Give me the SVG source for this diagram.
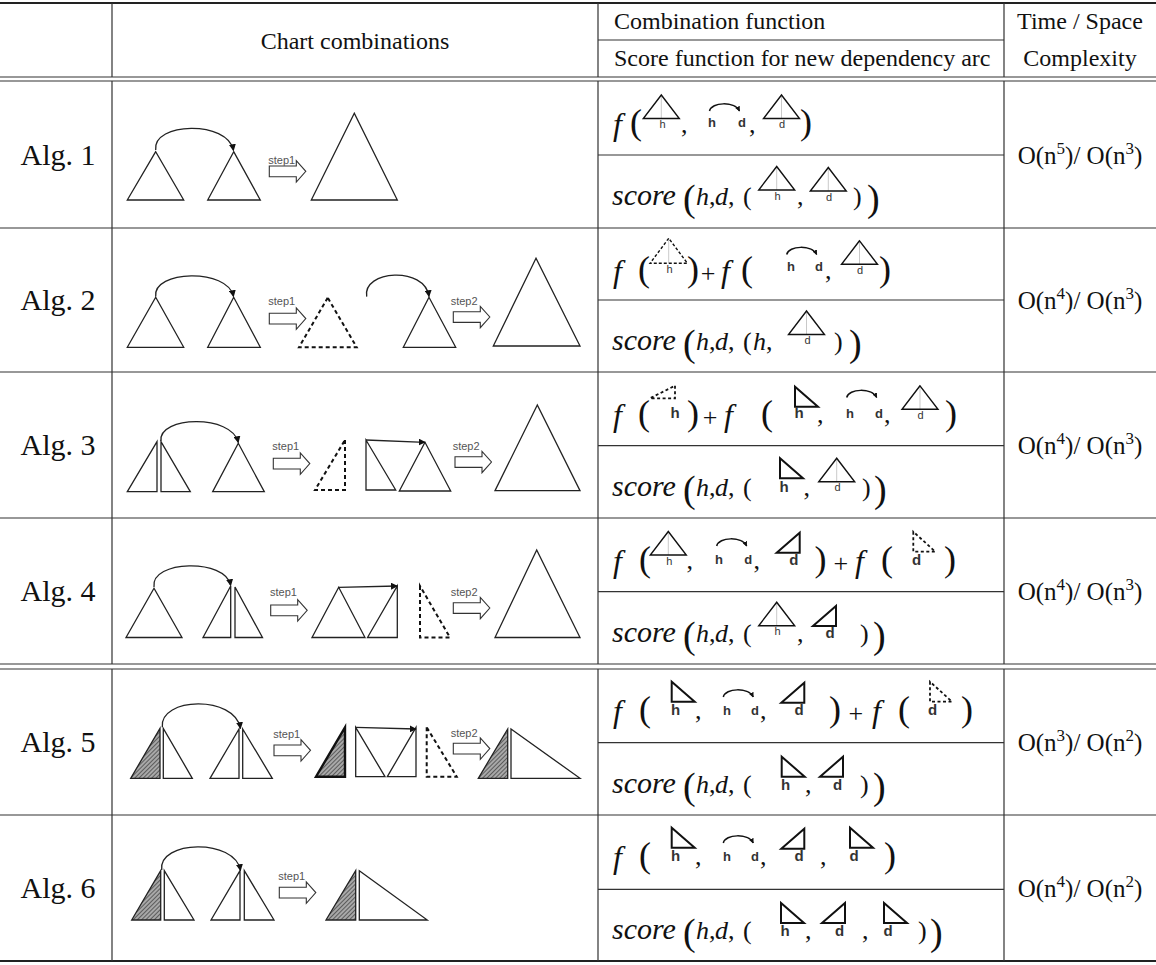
<svg xmlns="http://www.w3.org/2000/svg" width="1156" height="965" viewBox="0 0 1156 965">
<style>
.ln{stroke:#333;stroke-width:1.2;fill:none}
.lt{stroke:#222;stroke-width:1.8;fill:none}
.tr{fill:#fff;stroke:#222;stroke-width:1.3}
.hx{fill:url(#hatch);stroke:#222;stroke-width:1.3}
.hxb{fill:url(#hatch);stroke:#111;stroke-width:2.4}
.ds{fill:none;stroke:#111;stroke-width:2;stroke-dasharray:4 3}
.cn{fill:none;stroke:#222;stroke-width:1.3}
.t{font-family:"Liberation Serif","Times New Roman",serif;fill:#111}
.hd{font-size:24px}
.alg{font-size:30px;text-anchor:middle}
.cx{font-size:25px;text-anchor:middle}
.mi{font-family:"Liberation Serif","Times New Roman",serif;font-style:italic;fill:#111;font-size:26px}
.sc{font-family:"Liberation Serif","Times New Roman",serif;font-style:italic;fill:#111;font-size:30px}
.mf{font-family:"Liberation Serif","Times New Roman",serif;font-style:italic;fill:#111;font-size:32px}
.mr{font-family:"Liberation Serif","Times New Roman",serif;fill:#111;font-size:26px}
.pb{font-family:"Liberation Serif","Times New Roman",serif;fill:#111;font-size:36px}
.st{font-family:"Liberation Sans",Arial,sans-serif;font-size:11px;fill:#555}
.lb{font-family:"Liberation Sans",Arial,sans-serif;fill:#333;text-anchor:middle}
.ls{font-size:11px}
.la{font-size:13px;font-weight:bold}
.lr{font-size:15px;font-weight:bold}
.it{font-style:italic}
.big{font-size:38px}
</style>
<defs>
<marker id="ah" viewBox="0 0 10 10" refX="9" refY="5" markerWidth="7" markerHeight="7" markerUnits="userSpaceOnUse" orient="auto"><path d="M0,0 L10,5 L0,10 z" fill="#111"/></marker>
<marker id="ahs" viewBox="0 0 10 10" refX="9" refY="5" markerWidth="5" markerHeight="5" markerUnits="userSpaceOnUse" orient="auto"><path d="M0,0 L10,5 L0,10 z" fill="#111"/></marker>
<pattern id="hatch" width="3" height="3" patternUnits="userSpaceOnUse" patternTransform="rotate(45)"><rect width="3" height="3" fill="#a8a8a8"/><line x1="0" y1="0" x2="0" y2="3" stroke="#333" stroke-width="1.3"/></pattern>
<path id="blk" d="M0,0 H27 V-5.3 L36.5,5.3 L27,16 V10.7 H0 Z" fill="#fff" stroke="#333" stroke-width="1.1"/>
<g id="triI"><line x1="0" y1="-23.5" x2="0" y2="0" stroke="#bbb" stroke-width="0.8"/><polygon points="0,-23.5 -18,0 18,0" fill="none" stroke="#111" stroke-width="1.4"/></g>
<g id="triId"><line x1="0" y1="-25" x2="0" y2="0" stroke="#bbb" stroke-width="0.8"/><polygon points="0,-25 -18.7,0 18.7,0" fill="none" stroke="#111" stroke-width="1.4" stroke-dasharray="3 2"/></g>
<path id="arcI" d="M0,0 C2,-9 25,-10 30,0" fill="none" stroke="#111" stroke-width="1.5" marker-end="url(#ahs)"/>
<polygon id="rtH" points="0,-20 0,0 23,0" fill="none" stroke="#111" stroke-width="2"/>
<polygon id="rtD" points="23,-20 23,0 0,0" fill="none" stroke="#111" stroke-width="2"/>
<polygon id="rtDd" points="0,-20 0,0 22,0" fill="none" stroke="#111" stroke-width="1.8" stroke-dasharray="3 2.5"/>
<polygon id="rtHd" points="25,-12.6 25,0 0,0" fill="none" stroke="#111" stroke-width="1.8" stroke-dasharray="3 2.5"/>
</defs>
<rect width="1156" height="965" fill="#fff"/>

<g id="table-lines">
<line class="lt" x1="0" y1="3" x2="1156" y2="3"/>
<line class="ln" x1="598" y1="40" x2="1004" y2="40"/>
<line class="ln" x1="0" y1="77" x2="1156" y2="77"/>
<line class="ln" x1="0" y1="81" x2="1156" y2="81"/>
<line class="ln" x1="0" y1="228" x2="1156" y2="228"/>
<line class="ln" x1="0" y1="372" x2="1156" y2="372"/>
<line class="ln" x1="0" y1="518" x2="1156" y2="518"/>
<line class="ln" x1="0" y1="664" x2="1156" y2="664"/>
<line class="ln" x1="0" y1="669" x2="1156" y2="669"/>
<line class="ln" x1="0" y1="815" x2="1156" y2="815"/>
<line class="lt" x1="0" y1="961" x2="1156" y2="961"/>
<line class="ln" x1="598" y1="155" x2="1004" y2="155"/>
<line class="ln" x1="598" y1="300" x2="1004" y2="300"/>
<line class="ln" x1="598" y1="445.7" x2="1004" y2="445.7"/>
<line class="ln" x1="598" y1="591.7" x2="1004" y2="591.7"/>
<line class="ln" x1="598" y1="742.7" x2="1004" y2="742.7"/>
<line class="ln" x1="598" y1="889.3" x2="1004" y2="889.3"/>
<path class="ln" d="M112,3 V77 M112,81 V664 M112,669 V961 M598,3 V77 M598,81 V664 M598,669 V961 M1004,3 V77 M1004,81 V664 M1004,669 V961"/>
</g>

<g id="header">
<text class="t hd" x="355" y="49" text-anchor="middle">Chart combinations</text>
<text class="t hd" x="614" y="29">Combination function</text>
<text class="t hd" x="614" y="66">Score function for new dependency arc</text>
<text class="t hd" x="1080" y="29" text-anchor="middle">Time / Space</text>
<text class="t hd" x="1080" y="66" text-anchor="middle">Complexity</text>
</g>

<g id="labels">
<text class="t alg" x="58" y="165">Alg. 1</text>
<text class="t alg" x="58" y="310">Alg. 2</text>
<text class="t alg" x="58" y="455">Alg. 3</text>
<text class="t alg" x="58" y="601">Alg. 4</text>
<text class="t alg" x="58" y="752">Alg. 5</text>
<text class="t alg" x="58" y="898">Alg. 6</text>
</g>

<g id="complexity">
<text class="t cx" x="1080" y="164">O(n<tspan dy="-10" font-size="17">5</tspan><tspan dy="10">)/ O(n</tspan><tspan dy="-10" font-size="17">3</tspan><tspan dy="10">)</tspan></text>
<text class="t cx" x="1080" y="309">O(n<tspan dy="-10" font-size="17">4</tspan><tspan dy="10">)/ O(n</tspan><tspan dy="-10" font-size="17">3</tspan><tspan dy="10">)</tspan></text>
<text class="t cx" x="1080" y="454">O(n<tspan dy="-10" font-size="17">4</tspan><tspan dy="10">)/ O(n</tspan><tspan dy="-10" font-size="17">3</tspan><tspan dy="10">)</tspan></text>
<text class="t cx" x="1080" y="600">O(n<tspan dy="-10" font-size="17">4</tspan><tspan dy="10">)/ O(n</tspan><tspan dy="-10" font-size="17">3</tspan><tspan dy="10">)</tspan></text>
<text class="t cx" x="1080" y="751">O(n<tspan dy="-10" font-size="17">3</tspan><tspan dy="10">)/ O(n</tspan><tspan dy="-10" font-size="17">2</tspan><tspan dy="10">)</tspan></text>
<text class="t cx" x="1080" y="897">O(n<tspan dy="-10" font-size="17">4</tspan><tspan dy="10">)/ O(n</tspan><tspan dy="-10" font-size="17">2</tspan><tspan dy="10">)</tspan></text>
</g>

<!-- ============ CHART COLUMN ============ -->
<g id="alg1-chart">
<polygon class="tr" points="155.7,151.7 127.3,200 183.7,200"/>
<polygon class="tr" points="233.7,151.7 207.7,200 260.3,200"/>
<use href="#blk" x="269.3" y="166"/>
<text class="st" x="268.3" y="163.5">step1</text>
<polygon class="tr" points="354.3,113.3 311.3,200 397.3,200"/>
</g>
<g id="alg2-chart">
<polygon class="tr" points="155.7,297.3 127.3,347.3 183.7,347.3"/>
<polygon class="tr" points="233.7,297.3 207.7,347.3 260.3,347.3"/>
<use href="#blk" x="269.3" y="313.3"/>
<text class="st" x="268.3" y="305">step1</text>
<polygon class="ds" points="327.7,297.7 299,347.3 356.7,347.3"/>
<polygon class="tr" points="429,297.3 403.3,347.3 455.7,347.3"/>
<use href="#blk" x="453.3" y="311.7"/>
<text class="st" x="450.7" y="305">step2</text>
<polygon class="tr" points="536,258.3 493.3,346 580,346"/>
</g>
<g id="alg3-chart">
<polygon class="tr" points="157,441.7 127.3,491.7 157,491.7"/>
<polygon class="tr" points="161,441.7 161,491.7 190.3,491.7"/>
<polygon class="tr" points="238.3,443.3 212.7,491.7 264.3,491.7"/>
<use href="#blk" x="273.3" y="458.3"/>
<text class="st" x="272.3" y="450">step1</text>
<polygon class="ds" points="345,440 345,490 315,490"/>
<polygon class="tr" points="366,440 366,490 395.7,490"/>
<polygon class="tr" points="425,442.3 399.3,491 450.7,491"/>
<use href="#blk" x="455" y="456.7"/>
<text class="st" x="452.7" y="450">step2</text>
<polygon class="tr" points="537.3,405 495,490.7 580,490.7"/>
</g>
<g id="alg4-chart">
<polygon class="tr" points="154,588.3 126,637.5 182,637.5"/>
<polygon class="tr" points="230.7,586 203,637.5 230.7,637.5"/>
<polygon class="tr" points="235,587 235,637.5 262.5,637.5"/>
<use href="#blk" x="270.7" y="605"/>
<text class="st" x="270" y="596">step1</text>
<polygon class="tr" points="338.7,587.3 312,637.5 365,637.5"/>
<polygon class="tr" points="397.3,586 397.3,637.5 367.5,637.5"/>
<polygon class="ds" points="420,586 420,637.5 450,637.5"/>
<use href="#blk" x="453.3" y="602.7"/>
<text class="st" x="450.7" y="596">step2</text>
<polygon class="tr" points="536.7,550 495,637.5 580,637.5"/>
</g>
<g id="alg5-chart">
<polygon class="hx" points="160,728.3 130.7,778.3 160,778.3"/>
<polygon class="tr" points="163.3,728.3 163.3,778.3 192.3,778.3"/>
<polygon class="tr" points="239,729 210,778.3 239,778.3"/>
<polygon class="tr" points="242.7,729 242.7,778.3 272.3,778.3"/>
<use href="#blk" x="274" y="745"/>
<text class="st" x="273.3" y="737.5">step1</text>
<polygon class="hxb" points="345,727.3 316,776.7 345,776.7"/>
<polygon class="tr" points="355.7,727.3 355.7,776.7 385,776.7"/>
<polygon class="tr" points="416,727.3 387.3,776.7 416,776.7"/>
<polygon class="ds" points="426.7,727.3 426.7,776.7 456.7,776.7"/>
<use href="#blk" x="453.3" y="743.3"/>
<text class="st" x="450.7" y="737">step2</text>
<polygon class="hx" points="507.7,729 478.3,778.3 507.7,778.3"/>
<polygon class="tr" points="511,729 511,778.3 580,778.3"/>
</g>
<g id="alg6-chart">
<polygon class="hx" points="160.7,870.7 131.7,920 160.7,920"/>
<polygon class="tr" points="164.3,870.7 164.3,920 194,920"/>
<polygon class="tr" points="240,870.7 211,920 240,920"/>
<polygon class="tr" points="244.3,870.7 244.3,920 274,920"/>
<use href="#blk" x="279.3" y="887.3"/>
<text class="st" x="278.3" y="879.5">step1</text>
<polygon class="hx" points="355.7,870.7 326,920 355.7,920"/>
<polygon class="tr" points="359.3,870.7 359.3,920 427.3,920"/>
</g>

<g id="connectors">
<path class="cn" d="M155.7,150 C152,122 228,120 233.5,150.5" marker-end="url(#ah)"/>
<path class="cn" d="M155.7,296.7 C152,270 228,268 233.5,296.5" marker-end="url(#ah)"/>
<path class="cn" d="M366.7,296.7 C362,270 425,266 429,296.5" marker-end="url(#ah)"/>
<path class="cn" d="M161,441 C158,416 232,414 238.3,442.5" marker-end="url(#ah)"/>
<path class="cn" d="M366,440 L425,442.3" marker-end="url(#ah)"/>
<path class="cn" d="M154,587 C150,560 226,558 230.7,585.5" marker-end="url(#ah)"/>
<path class="cn" d="M338.7,587.3 L397.3,586" marker-end="url(#ah)"/>
<path class="cn" d="M162.3,727.3 C159,697 235,695 240.5,728.5" marker-end="url(#ah)"/>
<path class="cn" d="M355.7,727.3 L416,729" marker-end="url(#ah)"/>
<path class="cn" d="M161.7,870 C158,840 235,838 240.5,870.5" marker-end="url(#ah)"/>
</g>

<!-- ============ FORMULA COLUMN ============ -->
<g id="alg1-formula">
<text class="mf" x="613" y="135">f</text>
<text class="pb" x="630" y="134">(</text>
<use href="#triI" x="661.3" y="118.5"/><text class="lb ls" x="662.5" y="128">h</text>
<text class="mr" x="681" y="133">,</text>
<use href="#arcI" x="709.5" y="111"/><text class="lb la" x="712" y="126.5">h</text><text class="lb la" x="742" y="126.5">d</text>
<text class="mr" x="749" y="133">,</text>
<use href="#triI" x="781.5" y="118.5"/><text class="lb ls" x="782" y="128">d</text>
<text class="pb" x="800" y="134">)</text>
<text class="sc" x="612" y="205">score</text>
<text class="mr"><tspan class="big" x="683" y="211">(</tspan><tspan class="it" x="696" y="205">h</tspan><tspan x="709">,</tspan><tspan class="it" x="715">d</tspan><tspan x="728">,</tspan><tspan x="743">(</tspan></text>
<use href="#triI" x="776.7" y="190"/><text class="lb ls" x="777.5" y="199.5">h</text>
<text class="mr" x="797" y="205">,</text>
<use href="#triI" x="828.3" y="191"/><text class="lb ls" x="829" y="200.5">d</text>
<text class="mr"><tspan x="853" y="205">)</tspan><tspan class="big" x="867" y="211">)</tspan></text>
</g>

<g id="alg2-formula">
<text class="mf" x="613" y="282">f</text>
<text class="pb" x="638" y="281">(</text>
<use href="#triId" x="668.7" y="263.3"/><text class="lb ls" x="669.5" y="272.5">h</text>
<text class="pb" x="687" y="281">)</text>
<text class="mr" x="708" y="282" text-anchor="middle">+</text>
<text class="mf" x="721" y="282">f</text>
<text class="pb" x="741" y="281">(</text>
<use href="#arcI" x="786.7" y="254.5"/><text class="lb la" x="791" y="271">h</text><text class="lb la" x="819" y="271">d</text>
<text class="mr" x="825" y="279">,</text>
<use href="#triI" x="859.5" y="264.3"/><text class="lb ls" x="860" y="273.5">d</text>
<text class="pb" x="879" y="281">)</text>
<text class="sc" x="612" y="350">score</text>
<text class="mr"><tspan class="big" x="683" y="356">(</tspan><tspan class="it" x="696" y="350">h</tspan><tspan x="709">,</tspan><tspan class="it" x="715">d</tspan><tspan x="728">,</tspan><tspan x="743">(</tspan><tspan class="it" x="753">h</tspan><tspan x="766">,</tspan></text>
<use href="#triI" x="806.5" y="334.5"/><text class="lb ls" x="807.5" y="343.5">d</text>
<text class="mr"><tspan x="834" y="350">)</tspan><tspan class="big" x="849" y="356">)</tspan></text>
</g>

<g id="alg3-formula">
<text class="mf" x="613" y="426">f</text>
<text class="pb" x="638" y="425">(</text>
<use href="#rtHd" x="650" y="398.3"/><text class="lb lr" x="675" y="418">h</text>
<text class="pb" x="687" y="425">)</text>
<text class="mr" x="710" y="426" text-anchor="middle">+</text>
<text class="mf" x="724" y="426">f</text>
<text class="pb" x="761" y="425">(</text>
<use href="#rtH" x="795" y="406.7"/><text class="lb lr" x="799" y="418.3">h</text>
<text class="mr" x="817" y="423">,</text>
<use href="#arcI" x="846.7" y="397.5"/><text class="lb la" x="850" y="418">h</text><text class="lb la" x="879" y="418">d</text>
<text class="mr" x="884" y="423">,</text>
<use href="#triI" x="920" y="409.3"/><text class="lb ls" x="920.5" y="418.5">d</text>
<text class="pb" x="945" y="425">)</text>
<text class="sc" x="612" y="495.7">score</text>
<text class="mr"><tspan class="big" x="683" y="501.7">(</tspan><tspan class="it" x="696" y="495.7">h</tspan><tspan x="709">,</tspan><tspan class="it" x="715">d</tspan><tspan x="728">,</tspan><tspan x="743">(</tspan></text>
<use href="#rtH" x="780" y="478.3"/><text class="lb lr" x="784" y="491.7">h</text>
<text class="mr" x="803.5" y="495.7">,</text>
<use href="#triI" x="836.7" y="481.7"/><text class="lb ls" x="837.5" y="491">d</text>
<text class="mr"><tspan x="862" y="495.7">)</tspan><tspan class="big" x="874" y="501.7">)</tspan></text>
</g>

<g id="alg4-formula">
<text class="mf" x="613" y="571.7">f</text>
<text class="pb" x="639" y="570.7">(</text>
<use href="#triI" x="668.3" y="555"/><text class="lb ls" x="669.3" y="564.5">h</text>
<text class="mr" x="686.5" y="569">,</text>
<use href="#arcI" x="716.7" y="546"/><text class="lb la" x="719" y="564">h</text><text class="lb la" x="748.3" y="564">d</text>
<text class="mr" x="753.5" y="569">,</text>
<use href="#rtD" x="776.7" y="552.7"/><text class="lb lr" x="793.8" y="564.5">d</text>
<text class="pb" x="814.5" y="570.7">)</text>
<text class="mr" x="840.8" y="571.7" text-anchor="middle">+</text>
<text class="mf" x="855" y="571.7">f</text>
<text class="pb" x="881" y="570.7">(</text>
<use href="#rtDd" x="913.3" y="551.7"/><text class="lb lr" x="916.7" y="564.5">d</text>
<text class="pb" x="944" y="570.7">)</text>
<text class="sc" x="612" y="641.7">score</text>
<text class="mr"><tspan class="big" x="683" y="647.7">(</tspan><tspan class="it" x="696" y="641.7">h</tspan><tspan x="709">,</tspan><tspan class="it" x="715">d</tspan><tspan x="728">,</tspan><tspan x="743">(</tspan></text>
<use href="#triI" x="776.7" y="625.7"/><text class="lb ls" x="777.5" y="635">h</text>
<text class="mr" x="797" y="641.7">,</text>
<use href="#rtD" x="813" y="626"/><text class="lb lr" x="830" y="638">d</text>
<text class="mr"><tspan x="860" y="641.7">)</tspan><tspan class="big" x="873" y="647.7">)</tspan></text>
</g>

<g id="alg5-formula">
<text class="mf" x="613" y="722">f</text>
<text class="pb" x="639" y="721">(</text>
<use href="#rtH" x="671.7" y="701.7"/><text class="lb lr" x="675.5" y="715">h</text>
<text class="mr" x="695" y="719">,</text>
<use href="#arcI" x="723.3" y="697"/><text class="lb la" x="727" y="715">h</text><text class="lb la" x="755" y="715">d</text>
<text class="mr" x="760" y="719">,</text>
<use href="#rtD" x="781.3" y="702.7"/><text class="lb lr" x="799" y="715">d</text>
<text class="pb" x="829" y="721">)</text>
<text class="mr" x="855.8" y="722" text-anchor="middle">+</text>
<text class="mf" x="872" y="722">f</text>
<text class="pb" x="898" y="721">(</text>
<use href="#rtDd" x="930" y="701.7"/><text class="lb lr" x="932.5" y="715">d</text>
<text class="pb" x="961" y="721">)</text>
<text class="sc" x="612" y="792.7">score</text>
<text class="mr"><tspan class="big" x="683" y="798.7">(</tspan><tspan class="it" x="696" y="792.7">h</tspan><tspan x="709">,</tspan><tspan class="it" x="715">d</tspan><tspan x="728">,</tspan><tspan x="743">(</tspan></text>
<use href="#rtH" x="781.7" y="776.7"/><text class="lb lr" x="785.5" y="789.5">h</text>
<text class="mr" x="805" y="792.7">,</text>
<use href="#rtD" x="820" y="776.7"/><text class="lb lr" x="837.5" y="789.5">d</text>
<text class="mr"><tspan x="860" y="792.7">)</tspan><tspan class="big" x="873" y="798.7">)</tspan></text>
</g>

<g id="alg6-formula">
<text class="mf" x="613" y="868">f</text>
<text class="pb" x="639" y="867">(</text>
<use href="#rtH" x="671.7" y="847.7"/><text class="lb lr" x="675.5" y="861">h</text>
<text class="mr" x="695" y="865">,</text>
<use href="#arcI" x="723.3" y="843"/><text class="lb la" x="727" y="861">h</text><text class="lb la" x="755" y="861">d</text>
<text class="mr" x="760" y="865">,</text>
<use href="#rtD" x="781.3" y="848.7"/><text class="lb lr" x="799" y="861">d</text>
<text class="mr" x="820" y="865">,</text>
<use href="#rtH" x="850" y="847.7"/><text class="lb lr" x="854" y="861">d</text>
<text class="pb" x="884" y="867">)</text>
<text class="sc" x="612" y="939.3">score</text>
<text class="mr"><tspan class="big" x="683" y="945.3">(</tspan><tspan class="it" x="696" y="939.3">h</tspan><tspan x="709">,</tspan><tspan class="it" x="715">d</tspan><tspan x="728">,</tspan><tspan x="743">(</tspan></text>
<use href="#rtH" x="781" y="923"/><text class="lb lr" x="785" y="936">h</text>
<text class="mr" x="805" y="939.3">,</text>
<use href="#rtD" x="822" y="923"/><text class="lb lr" x="839.5" y="936">d</text>
<text class="mr" x="862" y="939.3">,</text>
<use href="#rtH" x="884" y="923"/><text class="lb lr" x="888" y="936">d</text>
<text class="mr"><tspan x="918" y="939.3">)</tspan><tspan class="big" x="930" y="945.3">)</tspan></text>
</g>
</svg>
